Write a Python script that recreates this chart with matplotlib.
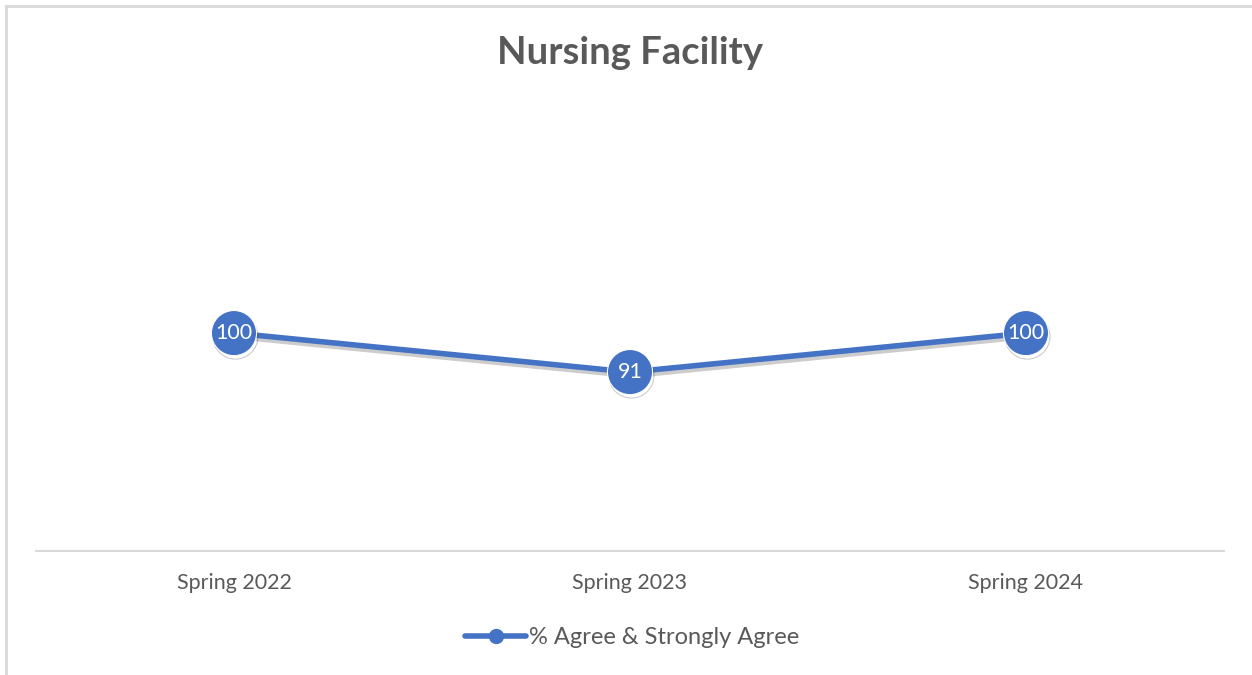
import matplotlib
matplotlib.use("Agg")
import matplotlib.pyplot as plt
import matplotlib.patheffects as pe
from matplotlib.lines import Line2D

# data
periods = ["Spring 2022", "Spring 2023", "Spring 2024"]
agree_pct = [100, 91, 100]
series_name = "% Agree & Strongly Agree"

blue = "#4472C4"
grey = "#595959"
plt.rcParams['font.family'] = ['Lato', 'DejaVu Sans']

W, H = 1252, 675
fig = plt.figure(figsize=(W / 100, H / 100), dpi=100)
fig.patch.set_facecolor("white")

# chart border (only top and left show in the reference)
fig.add_artist(Line2D([6 / W, 1], [1 - 6 / H, 1 - 6 / H], color="#d9d9d9", lw=2))
fig.add_artist(Line2D([6 / W, 6 / W], [0, 1 - 6 / H], color="#d9d9d9", lw=2))

ax = fig.add_axes([36 / W, 1 - 551 / H, (1224 - 36) / W, (551 - 100) / H])
x = list(range(len(periods)))
shadow = [pe.SimpleLineShadow(offset=(1.0, -2.5), shadow_color="black", alpha=0.2), pe.Normal()]
ax.plot(x, agree_pct, color=blue, lw=4, marker="o", markersize=32.5,
        markerfacecolor=blue, markeredgecolor="white", markeredgewidth=0.8,
        path_effects=shadow, solid_capstyle="round", zorder=3)
for xi, v in zip(x, agree_pct):
    ax.text(xi, v, str(v), color="white", fontsize=15.5, ha="center", va="center", zorder=4)

ax.set_xlim(-0.5, len(periods) - 0.5)
ax.set_ylim(49.7, 153.8)
ax.set_xticks(x)
ax.set_xticklabels(periods, fontsize=15.5, color=grey)
ax.tick_params(axis="x", length=0, pad=16)
ax.set_yticks([])
for s in ["top", "left", "right"]:
    ax.spines[s].set_visible(False)
ax.spines["bottom"].set_color("#d9d9d9")
ax.spines["bottom"].set_linewidth(1.5)

fig.text(630 / W, 1 - 53 / H, "Nursing Facility", fontsize=27.5, fontweight="bold",
         color=grey, ha="center", va="center")

handle = Line2D([], [], color=blue, lw=4, marker="o", markersize=10,
                markerfacecolor=blue, solid_capstyle="round")
fig.legend([handle], [series_name], loc="center", bbox_to_anchor=(632 / W, 1 - 638 / H),
           frameon=False, fontsize=17, labelcolor=grey, handlelength=2.6,
           handletextpad=0.1)

fig.savefig("out.png", dpi=100)
